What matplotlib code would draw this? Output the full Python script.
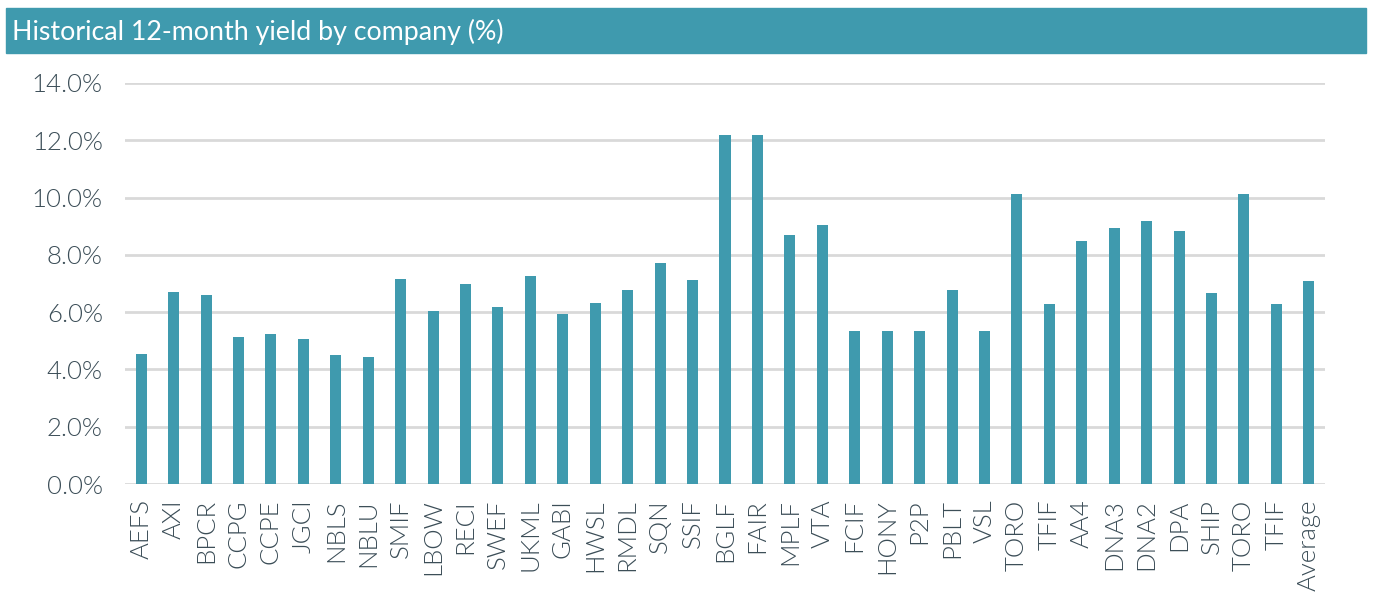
import matplotlib
matplotlib.use("Agg")
import matplotlib.pyplot as plt
from matplotlib.patches import Rectangle
from matplotlib.ticker import FuncFormatter

# Company tickers and 12-month yields (%)
companies = ["AEFS", "AXI", "BPCR", "CCPG", "CCPE", "JGCI", "NBLS", "NBLU",
             "SMIF", "LBOW", "RECI", "SWEF", "UKML", "GABI", "HWSL", "RMDL",
             "SQN", "SSIF", "BGLF", "FAIR", "MPLF", "VTA", "FCIF", "HONY",
             "P2P", "PBLT", "VSL", "TORO", "TFIF", "AA4", "DNA3", "DNA2",
             "DPA", "SHIP", "TORO", "TFIF", "Average"]
yields = [4.54, 6.69, 6.60, 5.12, 5.23, 5.06, 4.50, 4.42,
          7.15, 6.04, 6.98, 6.18, 7.26, 5.95, 6.31, 6.76,
          7.73, 7.12, 12.20, 12.18, 8.68, 9.04, 5.35, 5.35,
          5.35, 6.76, 5.35, 10.13, 6.29, 8.49, 8.95, 9.18,
          8.82, 6.67, 10.13, 6.29, 7.07]
y_ticks = [0, 2, 4, 6, 8, 10, 12, 14]

teal = "#3f9aae"
text_col = "#3b4d57"
grid_col = "#d9d9d9"

plt.rcParams["font.family"] = ["Lato", "DejaVu Sans"]

fig = plt.figure(figsize=(13.84, 5.97), dpi=100)

# title band
fig.patches.append(Rectangle((6 / 1384, 1 - 53 / 597), 1360 / 1384, 45 / 597,
                             transform=fig.transFigure, color=teal, zorder=0))
fig.text(12 / 1384, 1 - 32 / 597, "Historical 12-month yield by company (%)",
         color="white", fontsize=19.3, va="center", ha="left")

ax = fig.add_axes([125 / 1384, 1 - 484 / 597, 1200 / 1384, 401 / 597])
x = list(range(len(companies)))
ax.bar(x, yields, width=0.34, color=teal, zorder=3)

ax.set_xlim(-0.5, len(companies) - 0.5)
ax.set_ylim(0, 14)
ax.set_yticks(y_ticks)
ax.yaxis.set_major_formatter(FuncFormatter(lambda v, p: f"{v:.1f}%"))
ax.set_xticks(x)
ax.set_xticklabels(companies, rotation=90)
ax.tick_params(axis="both", length=0, labelsize=18.5, labelcolor=text_col)
ax.tick_params(axis="y", pad=16)
ax.tick_params(axis="x", pad=11)
for lab in ax.get_xticklabels() + ax.get_yticklabels():
    lab.set_fontweight(300)

ax.grid(axis="y", color=grid_col, linewidth=2, zorder=0)
for s in ax.spines.values():
    s.set_visible(False)

fig.savefig("out.png", dpi=100)
